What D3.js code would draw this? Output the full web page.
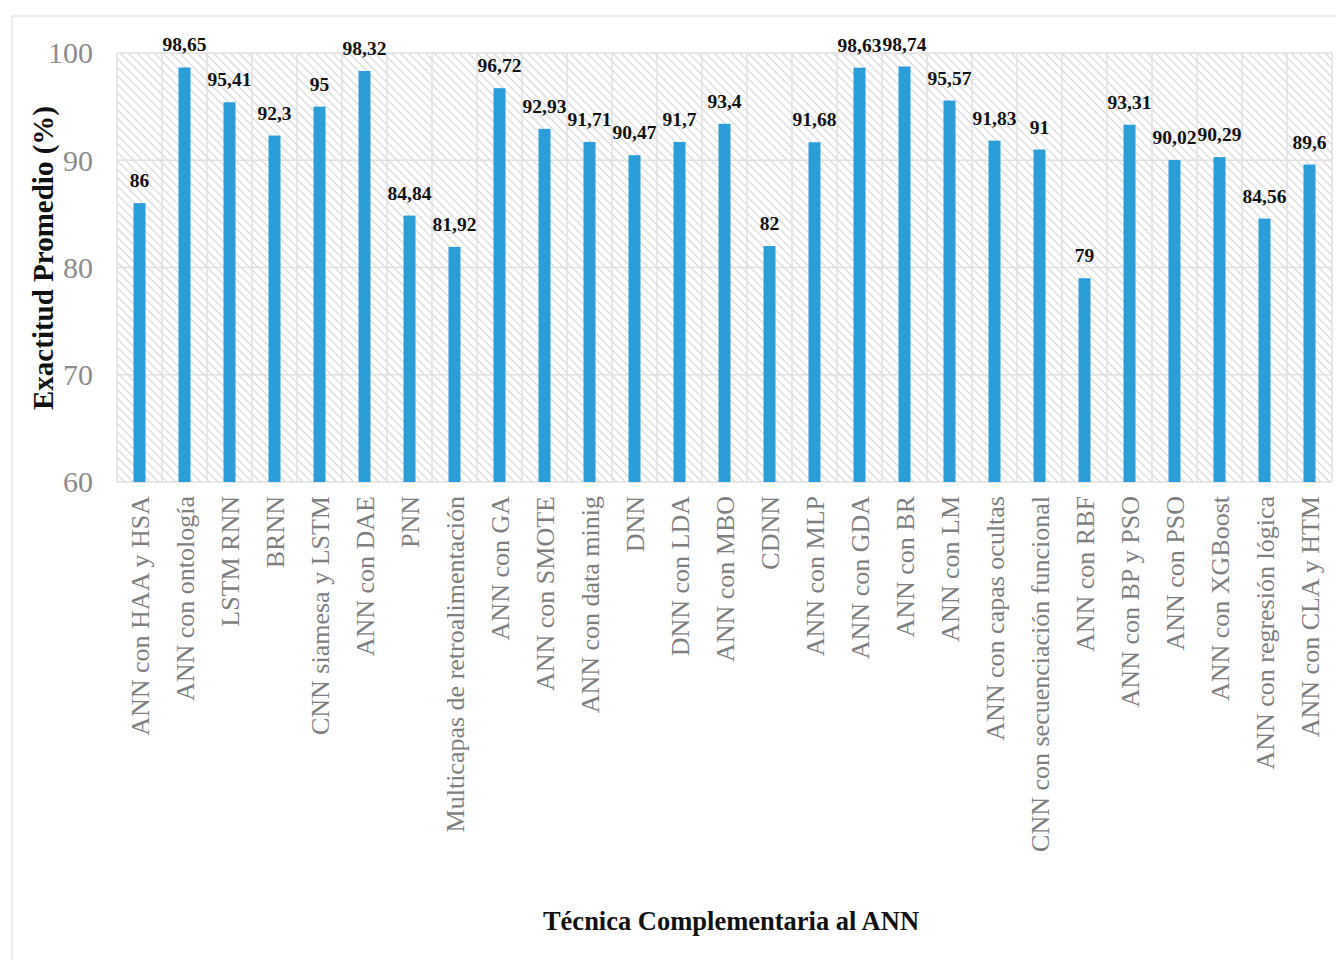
<!DOCTYPE html>
<html>
<head>
<meta charset="utf-8">
<script src="https://cdn.jsdelivr.net/npm/d3@7"></script>
<style>
  html, body { margin: 0; padding: 0; background: #fff; }
  svg { display: block; }
</style>
</head>
<body>
<svg id="chart" width="1335" height="960"></svg>
<script>
// Técnicas complementarias y su exactitud promedio (%)
const categories = [
  "ANN con HAA y HSA", "ANN con ontología", "LSTM RNN", "BRNN", "CNN siamesa y LSTM",
  "ANN con DAE", "PNN", "Multicapas de retroalimentación", "ANN con GA", "ANN con SMOTE",
  "ANN con data minig", "DNN", "DNN con LDA", "ANN con MBO", "CDNN", "ANN con MLP",
  "ANN con GDA", "ANN con BR", "ANN con LM", "ANN con capas ocultas",
  "CNN con secuenciación funcional", "ANN con RBF", "ANN con BP y PSO", "ANN con PSO",
  "ANN con XGBoost", "ANN con regresión lógica", "ANN con CLA y HTM"
];
const accuracy = [
  86, 98.65, 95.41, 92.3, 95, 98.32, 84.84, 81.92, 96.72, 92.93,
  91.71, 90.47, 91.7, 93.4, 82, 91.68, 98.63, 98.74, 95.57, 91.83,
  91, 79, 93.31, 90.02, 90.29, 84.56, 89.6
];
const yTicks = [60, 70, 80, 90, 100];
const yTitle = "Exactitud Promedio (%)";
const xTitle = "Técnica Complementaria al ANN";

const svg = d3.select("#chart");
const serif = "'Liberation Serif', 'Times New Roman', serif";

// outer chart frame
svg.append("rect")
  .attr("x", 12).attr("y", 16).attr("width", 1340).attr("height", 960)
  .attr("fill", "#fff").attr("stroke", "#e6e6e6").attr("stroke-width", 1.5);

const plot = { left: 117, right: 1332, top: 53, bottom: 482 };

const x = d3.scaleBand().domain(categories).range([plot.left, plot.right]).paddingInner(0).paddingOuter(0);
const y = d3.scaleLinear().domain([60, 100]).range([plot.bottom, plot.top]);

// diagonal hatch for the plot background
const defs = svg.append("defs");
const pat = defs.append("pattern")
  .attr("id", "hatch").attr("patternUnits", "userSpaceOnUse")
  .attr("width", 6).attr("height", 6)
  .attr("patternTransform", "rotate(45)");
pat.append("line").attr("x1", 0).attr("y1", 0).attr("x2", 6).attr("y2", 0)
  .attr("stroke", "#d6d6d6").attr("stroke-width", 2.4);

svg.append("rect")
  .attr("x", plot.left).attr("y", plot.top)
  .attr("width", plot.right - plot.left).attr("height", plot.bottom - plot.top)
  .attr("fill", "url(#hatch)");

// grid
const grid = svg.append("g").attr("stroke", "#e0e0e0").attr("stroke-width", 1.5);
grid.selectAll("line.h").data(yTicks).join("line")
  .attr("x1", plot.left).attr("x2", plot.right)
  .attr("y1", d => y(d)).attr("y2", d => y(d));
grid.selectAll("line.v").data(categories.concat([null])).join("line")
  .attr("x1", (d, i) => plot.left + i * x.step())
  .attr("x2", (d, i) => plot.left + i * x.step())
  .attr("y1", plot.top).attr("y2", plot.bottom);

// y axis
const yAxis = svg.append("g")
  .attr("transform", `translate(${plot.left - 24},0)`)
  .call(d3.axisLeft(y).tickValues(yTicks).tickSize(0).tickPadding(0));
yAxis.select(".domain").remove();
yAxis.selectAll("text")
  .attr("font-family", serif).attr("font-size", 30).attr("fill", "#8c8c8c")
  .attr("dy", "0.33em");

// x axis labels
const xAxis = svg.append("g")
  .attr("transform", `translate(0,${plot.bottom})`)
  .call(d3.axisBottom(x).tickSize(0).tickPadding(0));
xAxis.select(".domain").remove();
xAxis.selectAll("text")
  .attr("font-family", serif).attr("font-size", 26).attr("fill", "#7f7f7f")
  .attr("text-anchor", "end")
  .attr("transform", "rotate(-90)")
  .attr("x", -14).attr("y", 0).attr("dy", "0.35em");

// bars
const barW = 12;
svg.append("g").selectAll("rect").data(accuracy).join("rect")
  .attr("x", (d, i) => x(categories[i]) + x.bandwidth() / 2 - barW / 2)
  .attr("y", d => y(d))
  .attr("width", barW)
  .attr("height", d => y(60) - y(d))
  .attr("fill", "#2b9dd8");

// value labels
svg.append("g").selectAll("text").data(accuracy).join("text")
  .attr("x", (d, i) => x(categories[i]) + x.bandwidth() / 2)
  .attr("y", d => y(d) - 16)
  .attr("text-anchor", "middle")
  .attr("font-family", serif).attr("font-weight", "bold").attr("font-size", 19.5)
  .attr("fill", "#111")
  .text(d => String(d).replace(".", ","));

// axis titles
svg.append("text")
  .attr("transform", `translate(53,258) rotate(-90)`)
  .attr("text-anchor", "middle")
  .attr("font-family", serif).attr("font-weight", "bold").attr("font-size", 29)
  .attr("fill", "#111")
  .text(yTitle);

svg.append("text")
  .attr("x", 731).attr("y", 930)
  .attr("text-anchor", "middle")
  .attr("font-family", serif).attr("font-weight", "bold").attr("font-size", 26.5)
  .attr("fill", "#111")
  .text(xTitle);
</script>
</body>
</html>
